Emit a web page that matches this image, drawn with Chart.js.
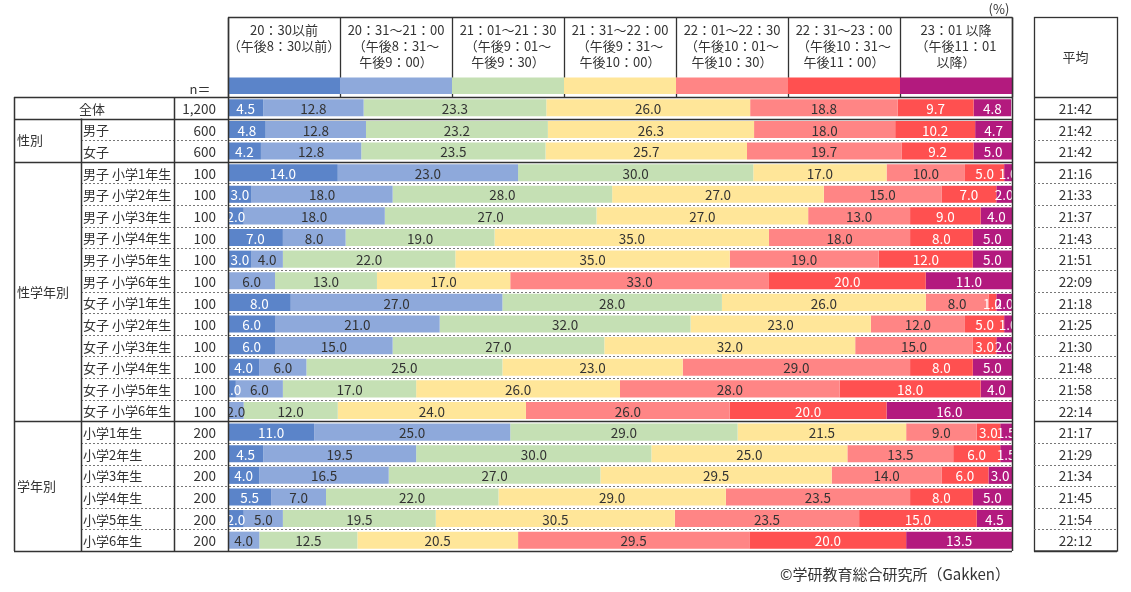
<!DOCTYPE html>
<html lang="ja">
<head>
<meta charset="UTF-8">
<title>就寝時刻</title>
<script src="https://cdn.jsdelivr.net/npm/chart.js@4.4.1/dist/chart.umd.min.js"></script>
<style>
  html, body { margin: 0; padding: 0; background: #fff; }
  #wrap { width: 1131px; height: 592px; }
</style>
</head>
<body>
<div id="wrap"><canvas id="chart" width="1131" height="592"></canvas></div>
<script>
// ---- data ----
const rowLabels = [
  '全体', '男子', '女子',
  '男子 小学1年生', '男子 小学2年生', '男子 小学3年生', '男子 小学4年生', '男子 小学5年生', '男子 小学6年生',
  '女子 小学1年生', '女子 小学2年生', '女子 小学3年生', '女子 小学4年生', '女子 小学5年生', '女子 小学6年生',
  '小学1年生', '小学2年生', '小学3年生', '小学4年生', '小学5年生', '小学6年生'
];
const groupNames = ['全体', '性別', '性学年別', '学年別'];
const groupSizes = [1, 2, 12, 6];
const nValues = ['1,200', '600', '600',
  '100', '100', '100', '100', '100', '100', '100', '100', '100', '100', '100', '100',
  '200', '200', '200', '200', '200', '200'];
const averages = ['21:42', '21:42', '21:42',
  '21:16', '21:33', '21:37', '21:43', '21:51', '22:09',
  '21:18', '21:25', '21:30', '21:48', '21:58', '22:14',
  '21:17', '21:29', '21:34', '21:45', '21:54', '22:12'];

const headerLines = [
  ['20：30以前', '（午後8：30以前）'],
  ['20：31～21：00', '（午後8：31～', '午後9：00）'],
  ['21：01～21：30', '（午後9：01～', '午後9：30）'],
  ['21：31～22：00', '（午後9：31～', '午後10：00）'],
  ['22：01～22：30', '（午後10：01～', '午後10：30）'],
  ['22：31～23：00', '（午後10：31～', '午後11：00）'],
  ['23：01 以降', '（午後11：01', '以降）']
];

const s1 = [4.5, 4.8, 4.2, 14.0, 3.0, 2.0, 7.0, 3.0, 0, 8.0, 6.0, 6.0, 4.0, 1.0, 0, 11.0, 4.5, 4.0, 5.5, 2.0, 0];
const s2 = [12.8, 12.8, 12.8, 23.0, 18.0, 18.0, 8.0, 4.0, 6.0, 27.0, 21.0, 15.0, 6.0, 6.0, 2.0, 25.0, 19.5, 16.5, 7.0, 5.0, 4.0];
const s3 = [23.3, 23.2, 23.5, 30.0, 28.0, 27.0, 19.0, 22.0, 13.0, 28.0, 32.0, 27.0, 25.0, 17.0, 12.0, 29.0, 30.0, 27.0, 22.0, 19.5, 12.5];
const s4 = [26.0, 26.3, 25.7, 17.0, 27.0, 27.0, 35.0, 35.0, 17.0, 26.0, 23.0, 32.0, 23.0, 26.0, 24.0, 21.5, 25.0, 29.5, 29.0, 30.5, 20.5];
const s5 = [18.8, 18.0, 19.7, 10.0, 15.0, 13.0, 18.0, 19.0, 33.0, 8.0, 12.0, 15.0, 29.0, 28.0, 26.0, 9.0, 13.5, 14.0, 23.5, 23.5, 29.5];
const s6 = [9.7, 10.2, 9.2, 5.0, 7.0, 9.0, 8.0, 12.0, 20.0, 1.0, 5.0, 3.0, 8.0, 18.0, 20.0, 3.0, 6.0, 6.0, 8.0, 15.0, 20.0];
const s7 = [4.8, 4.7, 5.0, 1.0, 2.0, 4.0, 5.0, 5.0, 11.0, 2.0, 1.0, 2.0, 5.0, 4.0, 16.0, 1.5, 1.5, 3.0, 5.0, 4.5, 13.5];

const seriesData = [s1, s2, s3, s4, s5, s6, s7];
const colors = ['#5B84C9', '#8EA9DB', '#C5E0B4', '#FFE699', '#FF8585', '#FF5050', '#B31A7E'];
const labelColors = ['#fff', '#333', '#333', '#333', '#333', '#fff', '#fff'];

const FONT = '"Noto Sans CJK JP", "Noto Sans", sans-serif';
const TXT = '#333';

// table geometry
const xGroup = 14, xSub = 81, xN = 174, xBar = 228, xBarEnd = 1012;
const xAvgL = 1034, xAvgR = 1117;
const headTop = 17.5;

const tablePlugin = {
  id: 'table',
  afterDatasetsDraw(chart) {
    const ctx = chart.ctx;
    const area = chart.chartArea;
    ctx.save();
    ctx.beginPath();
    ctx.rect(area.left, area.top, area.right - area.left, area.bottom - area.top);
    ctx.clip();
    ctx.font = '13.5px ' + FONT;
    ctx.textAlign = 'center';
    ctx.textBaseline = 'middle';
    chart.data.datasets.forEach((ds, di) => {
      const meta = chart.getDatasetMeta(di);
      meta.data.forEach((bar, i) => {
        const v = ds.data[i];
        if (!v) return;
        ctx.fillStyle = labelColors[di];
        ctx.fillText(v.toFixed(1), (bar.x + bar.base) / 2, bar.y + 1);
      });
    });
    ctx.restore();
  },
  afterDraw(chart) {
    const ctx = chart.ctx;
    const y = chart.scales.y;
    const area = chart.chartArea;
    const step = (area.bottom - area.top) / rowLabels.length;
    const rowTop = i => area.top + i * step;

    ctx.save();
    ctx.fillStyle = TXT;
    ctx.textBaseline = 'middle';

    // header text
    ctx.font = '13px ' + FONT;
    ctx.textAlign = 'center';
    const colW = (xBarEnd - xBar) / headerLines.length;
    headerLines.forEach((lines, c) => {
      lines.forEach((t, k) => ctx.fillText(t, xBar + colW * (c + 0.5), 30 + k * 16));
    });
    // header vertical lines
    ctx.strokeStyle = '#333';
    ctx.lineWidth = 1.3;
    for (let c = 0; c <= headerLines.length; c++) {
      const x = Math.round(xBar + colW * c) + 0.5;
      ctx.beginPath(); ctx.moveTo(x, headTop); ctx.lineTo(x, area.top); ctx.stroke();
    }
    ctx.beginPath(); ctx.moveTo(xBar, headTop); ctx.lineTo(xBarEnd + 0.5, headTop); ctx.stroke();
    // swatches
    colors.forEach((col, c) => {
      ctx.fillStyle = col;
      ctx.fillRect(xBar + colW * c, 77.5, colW + 0.5, 16.5);
    });
    ctx.fillStyle = TXT;
    ctx.fillText('(%)', 999, 9);
    ctx.textAlign = 'center';
    ctx.fillText('n＝', 200, 89);

    // average box header
    ctx.strokeRect(xAvgL + 0.5, headTop, xAvgR - xAvgL, area.bottom - headTop);
    ctx.fillText('平均', (xAvgL + xAvgR) / 2, 57);

    // row texts
    rowLabels.forEach((lab, i) => {
      const cy = y.getPixelForValue(i) + 1;
      ctx.font = '13px ' + FONT;
      if (i === 0) {
        ctx.textAlign = 'center';
        ctx.fillText(lab, (xGroup + xN) / 2 - 2, cy);
      } else {
        ctx.textAlign = 'left';
        ctx.fillText(lab, xSub + 2, cy);
      }
      ctx.font = '13.5px ' + FONT;
      ctx.textAlign = 'right';
      ctx.fillText(nValues[i], 216, cy);
      ctx.textAlign = 'center';
      ctx.fillText(averages[i], (xAvgL + xAvgR) / 2, cy);
    });

    // group labels and lines
    ctx.font = '13px ' + FONT;
    let start = 0;
    groupSizes.forEach((size, g) => {
      const top = rowTop(start), bot = rowTop(start + size);
      if (g > 0) {
        ctx.textAlign = 'left';
        ctx.fillText(groupNames[g], xGroup + 3, (top + bot) / 2);
      }
      // dashed lines inside group
      ctx.save();
      ctx.strokeStyle = '#777';
      ctx.lineWidth = 1;
      ctx.setLineDash([2, 2]);
      for (let k = 1; k < size; k++) {
        const yy = Math.round(rowTop(start + k)) + 0.5;
        ctx.beginPath(); ctx.moveTo(xSub, yy); ctx.lineTo(xBarEnd, yy); ctx.stroke();
        ctx.beginPath(); ctx.moveTo(xAvgL, yy); ctx.lineTo(xAvgR, yy); ctx.stroke();
      }
      ctx.restore();
      start += size;
    });

    // solid horizontal lines
    ctx.strokeStyle = '#333';
    ctx.lineWidth = 1.5;
    let acc = 0;
    [0].concat(groupSizes).forEach(size => {
      acc += size;
      const yy = Math.round(rowTop(acc)) + 0.5;
      ctx.beginPath(); ctx.moveTo(xGroup, yy); ctx.lineTo(xBarEnd, yy); ctx.stroke();
      ctx.beginPath(); ctx.moveTo(xAvgL, yy); ctx.lineTo(xAvgR, yy); ctx.stroke();
    });
    // vertical lines of the label table
    const vline = (x, y0, y1) => {
      ctx.beginPath(); ctx.moveTo(Math.round(x) + 0.5, y0); ctx.lineTo(Math.round(x) + 0.5, y1); ctx.stroke();
    };
    vline(xGroup - 0.5, area.top, area.bottom);
    vline(xSub, rowTop(1), area.bottom);
    vline(xN, area.top, area.bottom);
    vline(xBar - 0.5, headTop, area.bottom);
    vline(xBarEnd - 0.5, headTop, area.bottom);

    // credit
    ctx.fillStyle = TXT;
    ctx.font = '15px ' + FONT;
    ctx.textAlign = 'right';
    ctx.fillText('©学研教育総合研究所（Gakken）', 1010, 574);
    ctx.restore();
  }
};

new Chart(document.getElementById('chart'), {
  type: 'bar',
  data: {
    labels: rowLabels,
    datasets: seriesData.map((d, i) => ({
      label: headerLines[i][0],
      data: d,
      backgroundColor: colors[i],
      borderWidth: 0,
      barPercentage: 0.79,
      categoryPercentage: 1.0
    }))
  },
  options: {
    indexAxis: 'y',
    responsive: false,
    animation: false,
    layout: { padding: { left: 228, right: 119, top: 97, bottom: 41 } },
    plugins: { legend: { display: false }, tooltip: { enabled: false } },
    scales: {
      x: { stacked: true, min: 0, max: 100, display: false },
      y: { stacked: true, display: false }
    }
  },
  plugins: [tablePlugin]
});
</script>
</body>
</html>
